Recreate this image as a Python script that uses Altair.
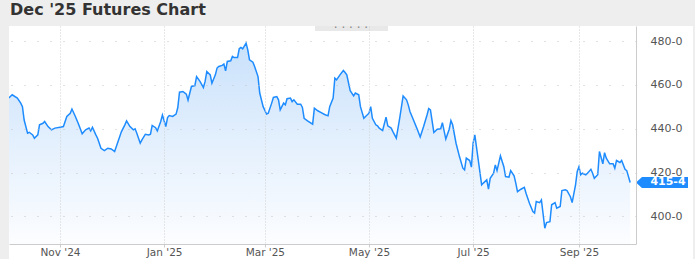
import altair as alt
import pandas as pd

dates = [
    "2024-10-02", "2024-10-04", "2024-10-07", "2024-10-09", "2024-10-10", "2024-10-11",
    "2024-10-13", "2024-10-14", "2024-10-16", "2024-10-17", "2024-10-19", "2024-10-20",
    "2024-10-22", "2024-10-23", "2024-10-25", "2024-10-27", "2024-10-29",
    "2024-11-01", "2024-11-03", "2024-11-05", "2024-11-07", "2024-11-08", "2024-11-10",
    "2024-11-12", "2024-11-14", "2024-11-16", "2024-11-18", "2024-11-19", "2024-11-20",
    "2024-11-22", "2024-11-23", "2024-11-25", "2024-11-27", "2024-11-29",
    "2024-12-01", "2024-12-03", "2024-12-05", "2024-12-07", "2024-12-09", "2024-12-10",
    "2024-12-12", "2024-12-14", "2024-12-15", "2024-12-16", "2024-12-18", "2024-12-19",
    "2024-12-21", "2024-12-23", "2024-12-24", "2024-12-25", "2024-12-27", "2024-12-28",
    "2024-12-30", "2024-12-31",
    "2025-01-02", "2025-01-03", "2025-01-04", "2025-01-06", "2025-01-08", "2025-01-09",
    "2025-01-10", "2025-01-12", "2025-01-14", "2025-01-15", "2025-01-17", "2025-01-19",
    "2025-01-20", "2025-01-22", "2025-01-24", "2025-01-25", "2025-01-26", "2025-01-28",
    "2025-01-29", "2025-01-31",
    "2025-02-01", "2025-02-02", "2025-02-04", "2025-02-05", "2025-02-06", "2025-02-07",
    "2025-02-09", "2025-02-10", "2025-02-11", "2025-02-13", "2025-02-14", "2025-02-15",
    "2025-02-16", "2025-02-18", "2025-02-19", "2025-02-20", "2025-02-22", "2025-02-23",
    "2025-02-25", "2025-02-26", "2025-02-28",
    "2025-03-02", "2025-03-03", "2025-03-05", "2025-03-06", "2025-03-08", "2025-03-09",
    "2025-03-10", "2025-03-12", "2025-03-13", "2025-03-14", "2025-03-16", "2025-03-17",
    "2025-03-18", "2025-03-20", "2025-03-22", "2025-03-23", "2025-03-24", "2025-03-26",
    "2025-03-29", "2025-03-30",
    "2025-04-01", "2025-04-03", "2025-04-05", "2025-04-07", "2025-04-08", "2025-04-10",
    "2025-04-11", "2025-04-12", "2025-04-14", "2025-04-16", "2025-04-17", "2025-04-18",
    "2025-04-20", "2025-04-22", "2025-04-23", "2025-04-25", "2025-04-26", "2025-04-28",
    "2025-04-29",
    "2025-05-01", "2025-05-02", "2025-05-03", "2025-05-05", "2025-05-06", "2025-05-07",
    "2025-05-09", "2025-05-11", "2025-05-12", "2025-05-14", "2025-05-15", "2025-05-17",
    "2025-05-19", "2025-05-21", "2025-05-23", "2025-05-24", "2025-05-25", "2025-05-27",
    "2025-05-29", "2025-05-31",
    "2025-06-02", "2025-06-04", "2025-06-05", "2025-06-06", "2025-06-08", "2025-06-10",
    "2025-06-12", "2025-06-13", "2025-06-15", "2025-06-17", "2025-06-18", "2025-06-19",
    "2025-06-21", "2025-06-23", "2025-06-25", "2025-06-26", "2025-06-27", "2025-06-29",
    "2025-06-30",
    "2025-07-01", "2025-07-02", "2025-07-04", "2025-07-06", "2025-07-07", "2025-07-09",
    "2025-07-10", "2025-07-11", "2025-07-13", "2025-07-14", "2025-07-15", "2025-07-17",
    "2025-07-19", "2025-07-20", "2025-07-22", "2025-07-23", "2025-07-25", "2025-07-26",
    "2025-07-27", "2025-07-29", "2025-07-31",
    "2025-08-01", "2025-08-03", "2025-08-05", "2025-08-06", "2025-08-07", "2025-08-09",
    "2025-08-10", "2025-08-12", "2025-08-13", "2025-08-15", "2025-08-16", "2025-08-18",
    "2025-08-19", "2025-08-21", "2025-08-22", "2025-08-24", "2025-08-25", "2025-08-27",
    "2025-08-28", "2025-08-30", "2025-08-31",
    "2025-09-01", "2025-09-02", "2025-09-03", "2025-09-05", "2025-09-06", "2025-09-08",
    "2025-09-09", "2025-09-10", "2025-09-12", "2025-09-13", "2025-09-15", "2025-09-16",
    "2025-09-17", "2025-09-19", "2025-09-21", "2025-09-22", "2025-09-23", "2025-09-25",
    "2025-09-26", "2025-09-28", "2025-09-29",
    "2025-10-01",
]

prices = [
    454.0, 455.5, 454.0, 451.7, 450.1, 444.0,
    438.0, 438.4, 437.2, 435.7, 437.2, 441.8,
    442.5, 443.3, 441.0, 439.5, 440.3,
    440.7, 441.0, 445.6, 447.1, 449.0, 445.6,
    441.8, 437.7, 439.5, 440.3, 439.0, 440.7,
    437.2, 435.7, 431.1, 430.0, 431.1,
    430.8, 429.6, 434.2, 438.7, 441.8, 443.6,
    441.0, 439.5, 440.0, 438.0, 433.4, 434.9,
    437.5, 437.2, 437.5, 441.5, 440.5, 439.0,
    443.3, 446.3,
    441.0, 445.1, 446.0, 445.6, 446.7, 449.7,
    456.7, 457.0, 455.8, 453.1, 459.3, 459.7,
    463.8, 461.6, 458.8, 461.6, 466.1, 464.6,
    460.8, 464.6,
    467.7, 468.4, 468.9, 469.5, 466.4, 470.7,
    471.0, 473.0, 472.5, 472.5, 476.5, 477.1,
    476.5, 479.1, 476.0, 471.5, 470.4, 468.4,
    463.8, 456.3, 450.1,
    446.7, 447.1, 451.7, 454.3, 454.7, 453.2,
    448.6, 451.7, 450.9, 453.7, 454.0, 452.4,
    453.2, 451.2, 451.2, 449.7, 444.8, 443.6,
    442.1, 449.4,
    448.2, 447.4, 446.5, 445.9, 450.1, 454.0,
    463.1, 462.3, 464.6, 466.6, 465.7, 464.6,
    457.4, 455.0, 456.3, 455.5, 450.1, 444.8,
    445.6,
    447.1, 450.1, 444.8, 441.8, 441.3, 440.3,
    439.2, 445.3, 441.3, 440.3, 438.7, 435.7,
    444.8, 455.0, 453.2, 450.9, 447.9, 444.1,
    440.3, 436.2,
    441.0, 446.3, 449.2, 448.6, 438.3, 439.8,
    440.0, 442.8, 435.3, 439.8, 443.7, 441.8,
    433.4, 427.3, 422.0, 421.2, 426.6, 425.5,
    422.5,
    433.4, 437.2, 425.8, 414.4, 415.2, 416.7,
    412.4, 417.4, 419.7, 423.5, 420.9, 427.6,
    422.7, 418.2, 417.9, 420.9, 418.5, 415.2,
    411.3, 412.4, 413.3,
    410.6, 406.0, 402.2, 401.5, 406.8, 406.3,
    407.5, 394.6, 397.2, 397.6, 405.3, 406.3,
    403.7, 404.5, 411.8, 412.1, 411.8, 409.0,
    406.3, 414.4, 420.5,
    422.7, 419.0, 419.7, 419.0, 419.7, 421.5,
    419.7, 417.4, 419.0, 429.6, 424.0, 429.1,
    426.6, 424.0, 424.0, 422.0, 425.5, 424.6,
    425.5, 421.5, 420.9,
    415.5,
]

tick_months = [(2024, 11), (2025, 1), (2025, 3), (2025, 5), (2025, 7), (2025, 9)]
y_ticks = [400, 420, 440, 460, 480]
y_domain = [387.4, 486.9]
title_text = "Dec '25 Futures Chart"

df = pd.DataFrame({"date": dates, "price": prices})

last_price = prices[-1]
last_label = f"{int(last_price)}-{int(round((last_price - int(last_price)) * 8))}"
tag_df = pd.DataFrame({"date": [dates[-1]], "price": [last_price], "label": [last_label]})
one = pd.DataFrame({"k": [0]})

W, H = 627, 218
LINE = "#1e8cff"

x_scale = alt.Scale(
    domain=[alt.DateTime(year=2024, month=10, date=2, hours=3),
            alt.DateTime(year=2025, month=10, date=4, hours=10)]
)
y_scale = alt.Scale(domain=y_domain, zero=False, nice=False)

x_axis = alt.Axis(
    values=[alt.DateTime(year=y, month=m, date=1) for (y, m) in tick_months],
    format="%b '%y", title=None, grid=True, gridColor="#d0d0d0", gridDash=[1, 2],
    domainColor="#cccccc", tickColor="#cccccc", tickSize=3, labelPadding=0,
    labelColor="#555555", labelFontSize=10.5, labelFont="DejaVu Sans", zindex=1,
)
y_axis = alt.Axis(
    orient="right", values=y_ticks, labelExpr="datum.value + '-0'", title=None,
    ticks=False, labelPadding=14, grid=True, gridColor="#c4c4c4", gridDash=[1, 12],
    domainColor="#cccccc", labelColor="#555555", labelFontSize=11, labelFont="DejaVu Sans",
    zindex=1,
)

panel = alt.Chart(one).mark_rect(color="white").encode(
    x=alt.value(0), x2=alt.value(W + 57), y=alt.value(0), y2=alt.value(H + 15)
)

area = alt.Chart(df).mark_area(
    clip=True,
    opacity=1,
    fill=alt.Gradient(
        gradient="linear",
        stops=[alt.GradientStop(color="#c9e1fb", offset=0),
               alt.GradientStop(color="#e4f0fd", offset=0.5),
               alt.GradientStop(color="#fcfdff", offset=1)],
        x1=1, x2=1, y1=0, y2=1,
    ),
).encode(
    x=alt.X("date:T", scale=x_scale, axis=x_axis),
    y=alt.Y("price:Q", scale=y_scale, axis=y_axis),
    y2=alt.datum(y_domain[0]),
)

line = alt.Chart(df).mark_line(color=LINE, strokeWidth=1.5, clip=True).encode(
    x="date:T", y="price:Q"
)

tag = alt.Chart(tag_df).mark_point(
    shape="M-1,0 L-0.77,-0.21 L1,-0.21 L1,0.21 L-0.77,0.21 Z",
    filled=True, color=LINE, opacity=1, size=52 * 52,
).encode(x=alt.value(W + 26), y="price:Q")

tag_text = alt.Chart(tag_df).mark_text(
    color="white", fontWeight="bold", fontSize=11, font="DejaVu Sans", align="center",
    baseline="middle",
).encode(x=alt.value(W + 32), y="price:Q", text="label:N")

title = alt.Chart(one).mark_text(
    text=title_text, align="left", baseline="top", fontSize=16,
    fontWeight="bold", font="DejaVu Sans", color="#333333",
).encode(x=alt.value(1), y=alt.value(-24.5))

tab = alt.Chart(one).mark_rect(color="#e8e8e8").encode(
    x=alt.value(306), x2=alt.value(379), y=alt.value(0), y2=alt.value(5)
)
tab_dots = alt.Chart(one).mark_text(
    text="· · · · ·", fontSize=12, color="#888888", align="center", baseline="middle",
    font="DejaVu Sans",
).encode(x=alt.value(342), y=alt.value(2))

chart = alt.layer(panel, area, line, tag, tag_text, title, tab, tab_dots).properties(
    width=W, height=H,
    autosize=alt.AutoSizeParams(type="none"),
    padding={"left": 9, "top": 26, "right": 59, "bottom": 15},
    background="#eeeeee",
).configure_view(stroke=None, fill="white")

chart.save("out.html", embed_options={"renderer": "svg", "actions": False})
